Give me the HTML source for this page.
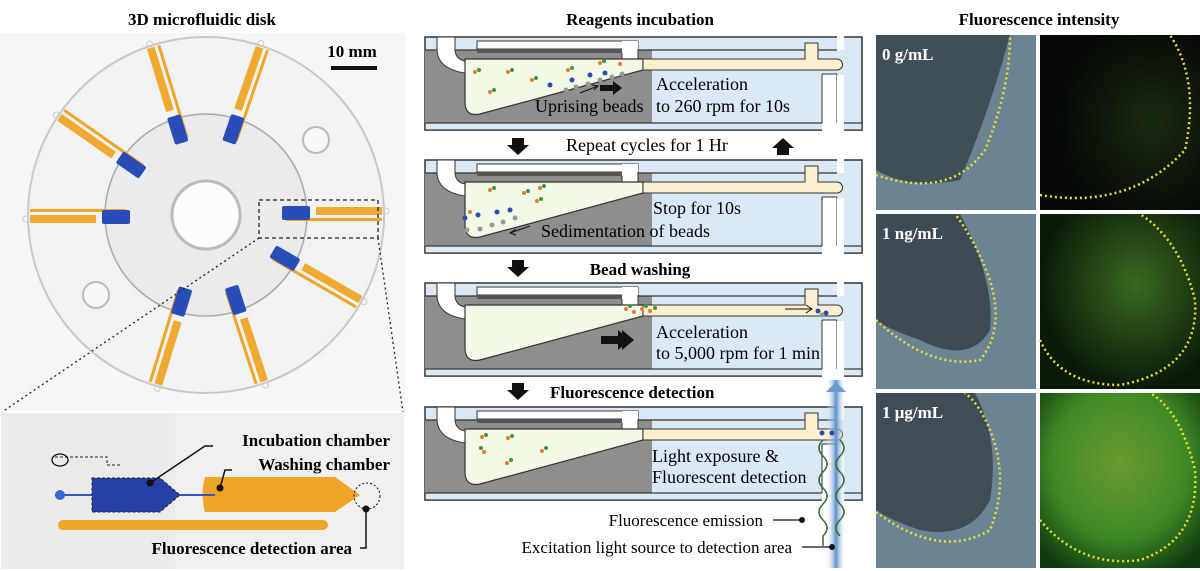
<!DOCTYPE html>
<html><head><meta charset="utf-8"><style>
body{margin:0;width:1200px;height:571px;background:#fff;overflow:hidden;font-family:"Liberation Serif",serif}
svg{position:absolute;left:0;top:0}
</style></head><body>
<svg width="1200" height="571" viewBox="0 0 1200 571" font-family="Liberation Serif, serif">
<defs>
<g id="chip">
  <rect x="0" y="0" width="437" height="93" fill="#dbe8f5" stroke="#333" stroke-width="1.5"/>
  <rect x="0" y="13" width="227" height="73" fill="#8e8e8e"/>
  <rect x="227" y="13" width="185" height="73" fill="#dbe8f5"/>
  <line x1="0" y1="13" x2="412" y2="13" stroke="#333" stroke-width="1.2"/>
  <rect x="0" y="86" width="437" height="7" fill="#dbe8f5" stroke="#333" stroke-width="1.2"/>
  <path d="M12,0 H30 V12 Q30,22 40,24 L40,36 Q13,32 12,13 Z" fill="#fff" stroke="#333" stroke-width="1"/>
  <rect x="52" y="4" width="161" height="8" fill="#fff" stroke="#333" stroke-width="1"/>
  <rect x="52" y="12" width="145" height="4" fill="#555"/>
  <rect x="197" y="4" width="16" height="19" fill="#fff"/>
  <line x1="197" y1="16" x2="197" y2="22" stroke="#333"/><line x1="213" y1="12" x2="213" y2="22" stroke="#333"/>
  <path d="M40,22 H218 L218,33 L55,77 Q40,80 40,65 Z" fill="#f3f9e7" stroke="#333" stroke-width="1.2"/>
  <path d="M218,22 H380 V6 H393 V22 H412 A5.5,5.5 0 0 1 412,33 H218 Z" fill="#fcefcf" stroke="#333" stroke-width="1"/>
  <rect x="397" y="37" width="15" height="57" fill="#fff"/>
  <line x1="397" y1="37" x2="397" y2="86" stroke="#333"/><line x1="412" y1="37" x2="412" y2="86" stroke="#333"/><line x1="397" y1="37" x2="412" y2="37" stroke="#333"/>
  <rect x="412" y="-1" width="7" height="14" fill="#fff"/>
  <rect x="412" y="38" width="7" height="56" fill="#fff"/>
</g>
<g id="darr"><polygon points="-6,0 6,0 6,7 11,7 0,17 -11,7 -6,7" fill="#111"/></g>
<radialGradient id="g1" cx="0.7" cy="0.5" r="0.6"><stop offset="0" stop-color="#1a2a12"/><stop offset="1" stop-color="#050805"/></radialGradient>
<radialGradient id="g2" cx="0.6" cy="0.4" r="0.6"><stop offset="0" stop-color="#3a6a20"/><stop offset="1" stop-color="#0a1a08"/></radialGradient>
<radialGradient id="g3" cx="0.5" cy="0.4" r="0.7"><stop offset="0" stop-color="#6a9a30"/><stop offset="0.6" stop-color="#3f8a25"/><stop offset="1" stop-color="#0f3a10"/></radialGradient>
<linearGradient id="beam" x1="0" y1="0" x2="1" y2="0"><stop offset="0" stop-color="#fff" stop-opacity="0"/><stop offset="0.5" stop-color="#5a90c8"/><stop offset="1" stop-color="#fff" stop-opacity="0"/></linearGradient>
<g id="arm">
  <rect x="110" y="-8" width="66" height="8" fill="#f0a526" opacity="0.95"/>
  <rect x="80" y="3" width="96" height="3" fill="#f0a526"/>
  <rect x="76" y="-9" width="28" height="14" rx="2" fill="#2a4cb8"/>
  <circle cx="180" cy="-4" r="3" fill="none" stroke="#ccc"/>
</g>
</defs>

<!-- Left panel -->
<text x="202" y="25" font-size="17" font-weight="bold" text-anchor="middle">3D microfluidic disk</text>
<rect x="0" y="33" width="405" height="378" fill="#f6f6f6"/>
<circle cx="206" cy="215" r="178" fill="#f1f2f3" stroke="#c8c8c8" stroke-width="2"/>
<circle cx="206" cy="215" r="101" fill="#e9ebed" stroke="#aaa" stroke-width="1.5"/>
<circle cx="206" cy="215" r="34" fill="#fcfcfc" stroke="#bbb" stroke-width="3"/>
<circle cx="316" cy="140" r="13" fill="#f8f8f8" stroke="#bbb" stroke-width="2"/>
<circle cx="96" cy="295" r="13" fill="#f8f8f8" stroke="#bbb" stroke-width="2"/>
<g transform="translate(206,215)">
  <use href="#arm" transform="rotate(0)"/>
  <use href="#arm" transform="rotate(30)"/>
  <use href="#arm" transform="rotate(72)"/>
  <use href="#arm" transform="rotate(107)"/>
  <use href="#arm" transform="rotate(180)"/>
  <use href="#arm" transform="rotate(215)"/>
  <use href="#arm" transform="rotate(253)"/>
  <use href="#arm" transform="rotate(289)"/>
</g>
<text x="352" y="57" font-size="17" font-weight="bold" text-anchor="middle">10 mm</text>
<rect x="331" y="66" width="46" height="4" fill="#111"/>
<rect x="259" y="200" width="119" height="38" fill="none" stroke="#222" stroke-width="1.3" stroke-dasharray="4,3"/>
<line x1="259" y1="238" x2="2" y2="412" stroke="#222" stroke-width="1.3" stroke-dasharray="2,3"/>
<line x1="378" y1="238" x2="403" y2="412" stroke="#222" stroke-width="1.3" stroke-dasharray="2,3"/>
<rect x="1" y="413" width="403" height="156" fill="#ebebec"/>
<rect x="175" y="413" width="229" height="156" fill="#f0f0f1"/>
<rect x="58" y="520" width="270" height="10" rx="5" fill="#f0a526"/>
<path d="M205,477 H335 L360,495 L335,512 H205 Q200,495 205,477 Z" fill="#f0a526"/>
<rect x="55" y="494" width="160" height="2" fill="#3358c0"/>
<circle cx="60" cy="495" r="5" fill="#3a68d0"/>
<path d="M92,478 H160 L180,495 L160,512 H92 Z" fill="#2540a8" stroke="#222" stroke-dasharray="3,2"/>
<path d="M55,457 H107 V465 H120" fill="none" stroke="#222" stroke-dasharray="3,2"/>
<ellipse cx="60" cy="460" rx="8" ry="6" fill="none" stroke="#111" stroke-width="1.3"/>
<circle cx="367" cy="496" r="13" fill="none" stroke="#111" stroke-dasharray="2,2"/>
<circle cx="150" cy="483" r="3.5" fill="#111"/><polyline points="150,483 205,446 213,446" fill="none" stroke="#111" stroke-width="1.5"/>
<circle cx="220" cy="488" r="3.5" fill="#111"/><polyline points="220,488 225,470 232,470" fill="none" stroke="#111" stroke-width="1.5"/>
<circle cx="366" cy="509" r="3.5" fill="#111"/><polyline points="366,509 366,548 360,548" fill="none" stroke="#111" stroke-width="1.5"/>
<text x="390" y="446" font-size="17" font-weight="bold" text-anchor="end">Incubation chamber</text>
<text x="390" y="470" font-size="17" font-weight="bold" text-anchor="end">Washing chamber</text>
<text x="352" y="554" font-size="17" font-weight="bold" text-anchor="end">Fluorescence detection area</text>

<!-- Middle panel -->
<text x="640" y="25" font-size="17" font-weight="bold" text-anchor="middle">Reagents incubation</text>
<use href="#chip" transform="translate(425,37)"/>
<use href="#chip" transform="translate(425,160)"/>
<use href="#chip" transform="translate(425,283)"/>
<use href="#chip" transform="translate(425,407)"/>
<g fill="#999"><circle cx="566" cy="90" r="2.5"/><circle cx="576" cy="87" r="2.5"/><circle cx="588" cy="84" r="2.5"/><circle cx="600" cy="80" r="2.5"/><circle cx="612" cy="77" r="2.5"/><circle cx="622" cy="74" r="2.5"/></g>
<g fill="#2a4cb0"><circle cx="550" cy="85" r="2.5"/><circle cx="572" cy="80" r="2.5"/><circle cx="590" cy="75" r="2.5"/><circle cx="605" cy="73" r="2.5"/></g>
<g fill="#e87a2a"><circle cx="475" cy="72" r="2"/><circle cx="508" cy="72" r="2"/><circle cx="532" cy="80" r="2"/><circle cx="490" cy="92" r="2"/><circle cx="568" cy="70" r="2"/><circle cx="600" cy="63" r="2"/><circle cx="620" cy="64" r="2"/></g>
<g fill="#3a9a3a"><circle cx="479" cy="70" r="2"/><circle cx="512" cy="70" r="2"/><circle cx="536" cy="78" r="2"/><circle cx="494" cy="90" r="2"/><circle cx="572" cy="68" r="2"/><circle cx="604" cy="61" r="2"/></g>
<path d="M580,93 L598,86" stroke="#111" fill="none"/><path d="M592,85 L598,86 L594,90" stroke="#111" fill="none"/>
<polygon points="600,85 613,85 613,81 622,88 613,95 613,91 600,91" fill="#111"/>
<text x="535" y="112" font-size="18">Uprising beads</text>
<text x="656" y="90" font-size="18">Acceleration</text>
<text x="656" y="112" font-size="18">to 260 rpm for 10s</text>
<use href="#darr" transform="translate(518,138)"/>
<text x="566" y="151" font-size="18">Repeat cycles for 1 Hr</text>
<use href="#darr" transform="translate(783,155) rotate(180)"/>
<g fill="#999"><circle cx="467" cy="230" r="2.5"/><circle cx="480" cy="229" r="2.5"/><circle cx="492" cy="225" r="2.5"/><circle cx="503" cy="222" r="2.5"/><circle cx="515" cy="218" r="2.5"/></g>
<g fill="#2a4cb0"><circle cx="465" cy="218" r="2.5"/><circle cx="478" cy="215" r="2.5"/><circle cx="497" cy="212" r="2.5"/><circle cx="510" cy="210" r="2.5"/></g>
<g fill="#e87a2a"><circle cx="490" cy="190" r="2"/><circle cx="524" cy="193" r="2"/><circle cx="540" cy="188" r="2"/><circle cx="537" cy="201" r="2"/><circle cx="470" cy="212" r="2"/></g>
<g fill="#3a9a3a"><circle cx="494" cy="188" r="2"/><circle cx="528" cy="191" r="2"/><circle cx="544" cy="186" r="2"/><circle cx="541" cy="199" r="2"/></g>
<path d="M530,226 L510,233" stroke="#111" fill="none"/><path d="M516,229 L510,233 L516,235" stroke="#111" fill="none"/>
<text x="653" y="214" font-size="18">Stop for 10s</text>
<text x="541" y="237" font-size="18">Sedimentation of beads</text>
<use href="#darr" transform="translate(518,260)"/>
<text x="640" y="275" font-size="17" font-weight="bold" text-anchor="middle">Bead washing</text>
<g fill="#e87a2a"><circle cx="626" cy="309" r="2"/><circle cx="634" cy="312" r="2"/><circle cx="642" cy="309" r="2"/><circle cx="650" cy="311" r="2"/></g>
<g fill="#3a9a3a"><circle cx="630" cy="306" r="2"/><circle cx="646" cy="306" r="2"/><circle cx="655" cy="308" r="2"/></g>
<g fill="#2a4cb0"><circle cx="818" cy="311" r="2.5"/><circle cx="826" cy="313" r="2.5"/></g><circle cx="822" cy="315" r="2.5" fill="#999"/>
<path d="M785,309 H812" stroke="#111"/><path d="M806,305 L812,309 L806,313" stroke="#111" fill="none"/>
<polygon points="601,336 618,336 618,330 630,340 618,350 618,344 601,344" fill="#111"/>
<polygon points="622,330 634,340 622,350" fill="#111"/>
<text x="656" y="338" font-size="18">Acceleration</text>
<text x="656" y="359" font-size="18">to 5,000 rpm for 1 min</text>
<use href="#darr" transform="translate(518,383)"/>
<text x="550" y="398" font-size="17" font-weight="bold">Fluorescence detection</text>
<g fill="#e87a2a"><circle cx="482" cy="437" r="2"/><circle cx="508" cy="438" r="2"/><circle cx="484" cy="452" r="2"/><circle cx="542" cy="451" r="2"/><circle cx="507" cy="463" r="2"/></g>
<g fill="#3a9a3a"><circle cx="486" cy="435" r="2"/><circle cx="512" cy="436" r="2"/><circle cx="481" cy="448" r="2"/><circle cx="546" cy="448" r="2"/><circle cx="511" cy="460" r="2"/></g>
<rect x="826" y="380" width="20" height="188" fill="url(#beam)"/>
<polygon points="826,392 836,382 846,392" fill="#6a9ad0"/>
<g fill="#2a4cb0"><circle cx="822" cy="433" r="2.5"/><circle cx="832" cy="433" r="2.5"/></g>
<path d="M823,440 q-8,8 0,16 q8,8 0,16 q-8,8 0,16 q8,8 0,16 q-8,8 0,16 q8,8 0,16 l0,10" fill="none" stroke="#3a6a30" stroke-width="1.5"/>
<path d="M840,440 q8,8 0,16 q-8,8 0,16 q8,8 0,16 q-8,8 0,16 q8,8 0,16 q-8,8 0,16" fill="none" stroke="#3a6a30" stroke-width="1.5"/>
<text x="652" y="462" font-size="18">Light exposure &amp;</text>
<text x="652" y="483" font-size="18">Fluorescent detection</text>
<text x="763" y="526" font-size="17" text-anchor="end">Fluorescence emission</text>
<line x1="773" y1="520" x2="802" y2="520" stroke="#111" stroke-width="1.3"/><circle cx="802" cy="520" r="3" fill="#111"/>
<text x="792" y="553" font-size="17" text-anchor="end">Excitation light source to detection area</text>
<line x1="802" y1="547" x2="832" y2="547" stroke="#111" stroke-width="1.3"/><circle cx="832" cy="547" r="3" fill="#111"/>

<!-- Right panel -->
<text x="1039" y="25" font-size="17" font-weight="bold" text-anchor="middle">Fluorescence intensity</text>
<g>
  <rect x="876" y="35" width="160" height="175" fill="#6a8494"/>
  <path d="M876,35 H1010 Q990,110 960,180 Q910,190 876,170 Z" fill="#404e58"/>
  <path d="M876,175 Q950,200 985,150 Q1010,90 1010,35" fill="none" stroke="#e8e030" stroke-width="2.5" stroke-dasharray="2,3"/>
  <rect x="1040" y="35" width="160" height="175" fill="url(#g1)"/>
  <path d="M1040,195 Q1130,210 1185,150 Q1200,80 1170,35" fill="none" stroke="#e8e030" stroke-width="2.5" stroke-dasharray="2,3"/>
  <text x="882" y="60" font-size="17" font-weight="bold" fill="#fff">0 g/mL</text>

  <rect x="876" y="214" width="160" height="175" fill="#6a8494"/>
  <path d="M876,214 H960 Q995,280 990,330 Q970,365 920,340 Q890,330 876,320 Z" fill="#3e4a54"/>
  <path d="M876,320 Q930,370 980,360 Q1005,330 990,280 Q975,240 955,214" fill="none" stroke="#e8e030" stroke-width="2.5" stroke-dasharray="2,3"/>
  <rect x="1040" y="214" width="160" height="175" fill="url(#g2)"/>
  <path d="M1040,340 Q1060,385 1120,385 Q1200,370 1195,300 Q1180,240 1140,214" fill="none" stroke="#e8e030" stroke-width="2.5" stroke-dasharray="2,3"/>
  <text x="882" y="239" font-size="17" font-weight="bold" fill="#fff">1 ng/mL</text>

  <rect x="876" y="393" width="160" height="175" fill="#6a8494"/>
  <path d="M876,393 H975 Q1000,440 990,500 Q970,540 920,530 Q890,520 876,510 Z" fill="#404c56"/>
  <path d="M876,512 Q940,560 990,530 Q1010,480 990,430 Q980,405 965,393" fill="none" stroke="#e8e030" stroke-width="2.5" stroke-dasharray="2,3"/>
  <rect x="1040" y="393" width="160" height="175" fill="url(#g3)"/>
  <path d="M1040,520 Q1080,568 1140,560 Q1200,540 1195,470 Q1180,410 1150,393" fill="none" stroke="#e8e030" stroke-width="2.5" stroke-dasharray="2,3"/>
  <text x="882" y="418" font-size="17" font-weight="bold" fill="#fff">1 μg/mL</text>
</g>
</svg>
</body></html>
